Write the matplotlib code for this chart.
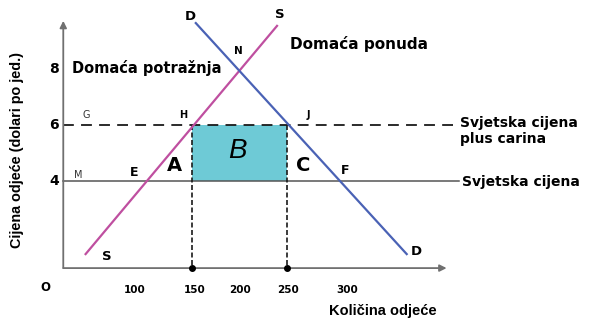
import matplotlib.pyplot as plt
from matplotlib.patches import Rectangle

plt.rcParams['font.family'] = ['DejaVu Sans']

# supply and demand endpoints (quantity, price)
supply_q = [38, 239.5]
supply_p = [1.39, 9.54]
demand_q = [154, 376]
demand_p = [9.64, 1.39]

world_price = 4
tariff_price = 6
q_tariff = [150, 250]   # domestic supply / demand at the tariff price
x_ticks = [100, 150, 200, 250, 300]
x_tick_pos = [90, 153, 200.5, 251, 313]
y_ticks = [8, 6, 4]

axis_q = 14.5
axis_p = 0.89

fig = plt.figure(figsize=(5.93, 3.2), dpi=100)
ax = fig.add_axes([0, 0, 1, 1])
ax.set_xlim(-52.1, 572.1)
ax.set_ylim(-0.964, 10.464)
ax.axis('off')

# axes with arrows
axc = '#707070'
ax.annotate('', xy=(axis_q, 9.72), xytext=(axis_q, axis_p),
            arrowprops=dict(arrowstyle='-|>', color=axc, lw=1.3, mutation_scale=10, shrinkA=0, shrinkB=0))
ax.annotate('', xy=(418, axis_p), xytext=(axis_q, axis_p),
            arrowprops=dict(arrowstyle='-|>', color=axc, lw=1.3, mutation_scale=10, shrinkA=0, shrinkB=0))

# area B
ax.add_patch(Rectangle((q_tariff[0], world_price), q_tariff[1] - q_tariff[0],
                       tariff_price - world_price, color='#6ecad6', lw=0, zorder=1))

# price lines
ax.plot([axis_q, 429], [tariff_price, tariff_price], color='#1a1a1a', lw=1.3,
        ls=(0, (6, 4)), zorder=2)
ax.plot([axis_q, 431], [world_price, world_price], color='#555555', lw=1.1, zorder=2)

# verticals down to the quantity axis
for q in q_tariff:
    ax.plot([q, q], [tariff_price, axis_p], color='#1a1a1a', lw=1.2, ls=(0, (3, 1.5)), zorder=2)
ax.scatter(q_tariff, [axis_p, axis_p], s=16, color='black', zorder=5)

# supply and demand
ax.plot(supply_q, supply_p, color='#bf4fa0', lw=1.6, zorder=3)
ax.plot(demand_q, demand_p, color='#4a62b5', lw=1.6, zorder=3)

# labels
bold = dict(fontweight='bold', color='black')
ax.text(148, 9.89, 'D', fontsize=9.5, ha='center', va='center', **bold)
ax.text(242.6, 9.93, 'S', fontsize=9.5, ha='center', va='center', **bold)
ax.text(198.4, 8.64, 'N', fontsize=7.5, ha='center', va='center', **bold)
ax.text(253, 8.89, 'Domaća ponuda', fontsize=11, ha='left', va='center', **bold)
ax.text(23.7, 8.04, 'Domaća potražnja', fontsize=10.5, ha='left', va='center', **bold)
ax.text(38.4, 6.36, 'G', fontsize=7, ha='center', va='center', color='#333333')
ax.text(140.5, 6.36, 'H', fontsize=7, ha='center', va='center', **bold)
ax.text(272, 6.36, 'J', fontsize=7, ha='center', va='center', **bold)
ax.text(30, 4.21, 'M', fontsize=7, ha='center', va='center', color='#333333')
ax.text(89, 4.29, 'E', fontsize=9, ha='center', va='center', **bold)
ax.text(311, 4.36, 'F', fontsize=9, ha='center', va='center', **bold)
ax.text(132, 4.57, 'A', fontsize=14, ha='center', va='center', **bold)
ax.text(197.4, 5.07, 'B', fontsize=20, ha='center', va='center', style='italic',
        color='black', family='Liberation Sans')
ax.text(267, 4.57, 'C', fontsize=14, ha='center', va='center', **bold)
ax.text(60.5, 1.32, 'S', fontsize=9.5, ha='center', va='center', **bold)
ax.text(385.8, 1.5, 'D', fontsize=9.5, ha='center', va='center', **bold)
ax.text(432, 6.07, 'Svjetska cijena', fontsize=10, ha='left', va='center', **bold)
ax.text(432, 5.5, 'plus carina', fontsize=10, ha='left', va='center', **bold)
ax.text(434, 3.96, 'Svjetska cijena', fontsize=10, ha='left', va='center', **bold)

# tick labels
for v in y_ticks:
    ax.text(4.5, v, str(v), fontsize=10, ha='center', va='center', **bold)
ax.text(-4.7, 0.18, 'O', fontsize=8.5, ha='center', va='center', **bold)
for pos, v in zip(x_tick_pos, x_ticks):
    ax.text(pos, 0.11, str(v), fontsize=7.5, ha='center', va='center', **bold)

ax.text(351, -0.64, 'Količina odjeće', fontsize=10.5, ha='center', va='center',
        family='Liberation Sans', **bold)
ax.text(-34.2, 5.1, 'Cijena odjeće (dolari po jed.)', fontsize=10.4, rotation=90,
        ha='center', va='center', family='Liberation Sans', **bold)

fig.savefig('out.png', dpi=100)
